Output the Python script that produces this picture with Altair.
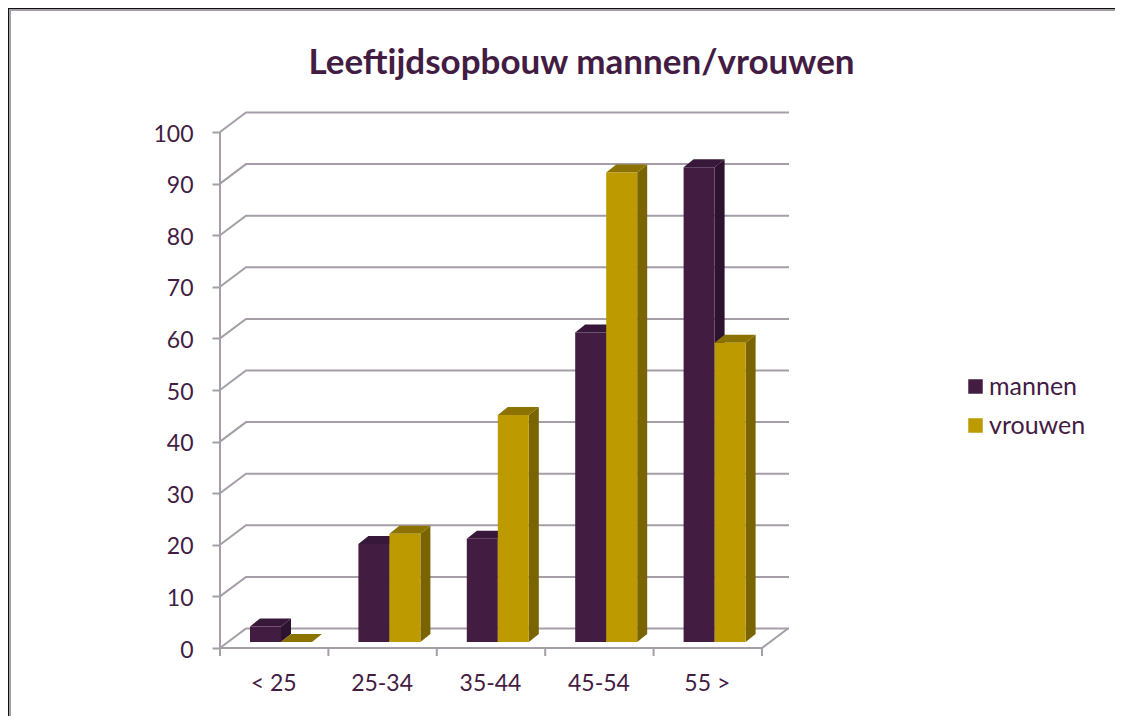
import altair as alt
import pandas as pd

categories = ["< 25", "25-34", "35-44", "45-54", "55 >"]
mannen = [3, 19, 20, 60, 92]
vrouwen = [0, 21, 44, 91, 58]
y_ticks = [0, 10, 20, 30, 40, 50, 60, 70, 80, 90, 100]
title_text = "Leeftijdsopbouw mannen/vrouwen"

TEXT = "#431C44"
GRID = "#A59DA7"
FONT = "Lato"
C_FRONT = {"mannen": "#431C42", "vrouwen": "#BC9A00"}
C_SIDE = {"mannen": "#2D1330", "vrouwen": "#7A6400"}
C_TOP = {"mannen": "#38183A", "vrouwen": "#8C7300"}

# plot geometry in pixels, converted to data units so marks go through the scales
PX_X, PX_Y = 108.4, 5.16
W, H = 569, 544
X_MAX = W / PX_X
Y_MIN, Y_MAX = -8 / PX_Y, (H - 8) / PX_Y
WALL_DX, WALL_DY = 26 / PX_X, 19.5 / PX_Y
BAR_START, BAR_W = 30 / PX_X, 31 / PX_X
BAR_LIFT = 6 / PX_Y
D_X, D_Y = 10 / PX_X, 8 / PX_Y

x_scale = alt.Scale(domain=[0, X_MAX], nice=False, zero=False)
y_scale = alt.Scale(domain=[Y_MIN, Y_MAX], nice=False, zero=False)

grid_rows = []
for v in y_ticks:
    grid_rows += [
        {"id": f"g{v}", "k": 0, "x": 0, "y": v},
        {"id": f"g{v}", "k": 1, "x": WALL_DX, "y": v + WALL_DY},
        {"id": f"g{v}", "k": 2, "x": X_MAX, "y": v + WALL_DY},
    ]
n = len(categories)
grid_rows += [
    {"id": "axisY", "k": 0, "x": 0, "y": y_ticks[0]},
    {"id": "axisY", "k": 1, "x": 0, "y": y_ticks[-1]},
    {"id": "floor", "k": 0, "x": 0, "y": 0},
    {"id": "floor", "k": 1, "x": n, "y": 0},
    {"id": "floor", "k": 2, "x": n + WALL_DX, "y": WALL_DY},
]
for i in range(n + 1):
    grid_rows += [
        {"id": f"t{i}", "k": 0, "x": i, "y": 0},
        {"id": f"t{i}", "k": 1, "x": i, "y": Y_MIN},
    ]

front, side, top = [], [], []
for s, (name, vals) in enumerate([("mannen", mannen), ("vrouwen", vrouwen)]):
    for i, v in enumerate(vals):
        x0 = i + BAR_START + s * BAR_W
        x1 = x0 + BAR_W
        y0 = BAR_LIFT
        y1 = v + BAR_LIFT
        key = f"{name}{i}"
        front.append({"x": x0, "x2": x1, "y": y0, "y2": y1, "serie": name})
        side += [
            {"id": key, "x": x1, "y": y1, "y2": y0, "c": C_SIDE[name]},
            {"id": key, "x": x1 + D_X, "y": y1 + D_Y, "y2": y0 + D_Y, "c": C_SIDE[name]},
        ]
        top += [
            {"id": key, "y": y1, "x": x0, "x2": x1, "c": C_TOP[name]},
            {"id": key, "y": y1 + D_Y, "x": x0 + D_X, "x2": x1 + D_X, "c": C_TOP[name]},
        ]

label_expr = "[" + ",".join(f'"{c}"' for c in categories) + "][datum.value - 0.5]"

x_axis = alt.Axis(
    values=[i + 0.5 for i in range(n)], labelExpr=label_expr, title=None, grid=False,
    domain=False, ticks=False, labelPadding=16, labelOffset=-1, labelFontSize=23, labelColor=TEXT,
    labelFont=FONT, labelOverlap=False, labelFlush=False, labelBound=False,
)
y_axis = alt.Axis(
    values=y_ticks, title=None, grid=False, domain=False, tickSize=8, tickColor=GRID,
    tickWidth=2, labelPadding=19, labelFontSize=23, labelColor=TEXT, labelFont=FONT,
    labelOffset=2, labelOverlap=False, labelFlush=False, labelBound=False,
)

grid = alt.Chart(pd.DataFrame(grid_rows)).mark_line(color=GRID, strokeWidth=2).encode(
    x=alt.X("x:Q", scale=x_scale, axis=x_axis),
    y=alt.Y("y:Q", scale=y_scale, axis=y_axis),
    detail="id:N",
    order="k:Q",
)

side_layer = alt.Chart(pd.DataFrame(side)).mark_area(opacity=1).encode(
    x=alt.X("x:Q", scale=x_scale, axis=x_axis),
    y=alt.Y("y:Q", scale=y_scale, axis=y_axis, stack=None),
    y2="y2:Q",
    detail="id:N",
    color=alt.Color("c:N", scale=None),
)

top_layer = alt.Chart(pd.DataFrame(top)).mark_area(opacity=1, orient="horizontal").encode(
    y=alt.Y("y:Q", scale=y_scale, axis=y_axis),
    x=alt.X("x:Q", scale=x_scale, axis=x_axis, stack=None),
    x2="x2:Q",
    detail="id:N",
    color=alt.Color("c:N", scale=None),
)

front_layer = alt.Chart(pd.DataFrame(front)).mark_rect().encode(
    x=alt.X("x:Q", scale=x_scale, axis=x_axis),
    x2="x2:Q",
    y=alt.Y("y:Q", scale=y_scale, axis=y_axis),
    y2="y2:Q",
    color=alt.Color(
        "serie:N",
        scale=alt.Scale(domain=list(C_FRONT), range=list(C_FRONT.values())),
        legend=alt.Legend(
            title=None, orient="none", legendX=743, legendY=262, symbolType="square",
            symbolSize=210, symbolStrokeWidth=0, labelFontSize=25, labelColor=TEXT,
            labelFont=FONT, labelOffset=1, rowPadding=13, symbolOpacity=1,
        ),
    ),
)

frame_black_l = alt.Chart(pd.DataFrame({"a": [0]})).mark_rule(color="#111111", strokeWidth=1).encode(
    x=alt.value(-211.5), y=alt.value(-104), y2=alt.value(604))
frame_grey_l = alt.Chart(pd.DataFrame({"a": [0]})).mark_rule(color="#A59DA7", strokeWidth=2).encode(
    x=alt.value(-210), y=alt.value(-103), y2=alt.value(604))
frame_black_t = alt.Chart(pd.DataFrame({"a": [0]})).mark_rule(color="#111111", strokeWidth=1).encode(
    y=alt.value(-103.5), x=alt.value(-212), x2=alt.value(895))
frame_grey_t = alt.Chart(pd.DataFrame({"a": [0]})).mark_rule(color="#A59DA7", strokeWidth=2).encode(
    y=alt.value(-102), x=alt.value(-211), x2=alt.value(895))

chart = alt.layer(
    frame_grey_l, frame_grey_t, frame_black_l, frame_black_t,
    grid, side_layer, top_layer, front_layer,
).properties(
    width=W, height=H,
    title=alt.TitleParams(
        title_text, font=FONT, fontSize=35, fontWeight="bold", color=TEXT,
        anchor="middle", dx=77, offset=-73,
    ),
    autosize=alt.AutoSizeParams(type="none"),
    padding={"left": 212, "top": 104, "right": 326, "bottom": 60},
).configure_view(stroke=None)

chart.save("out.html", embed_options={"renderer": "svg", "actions": False})
